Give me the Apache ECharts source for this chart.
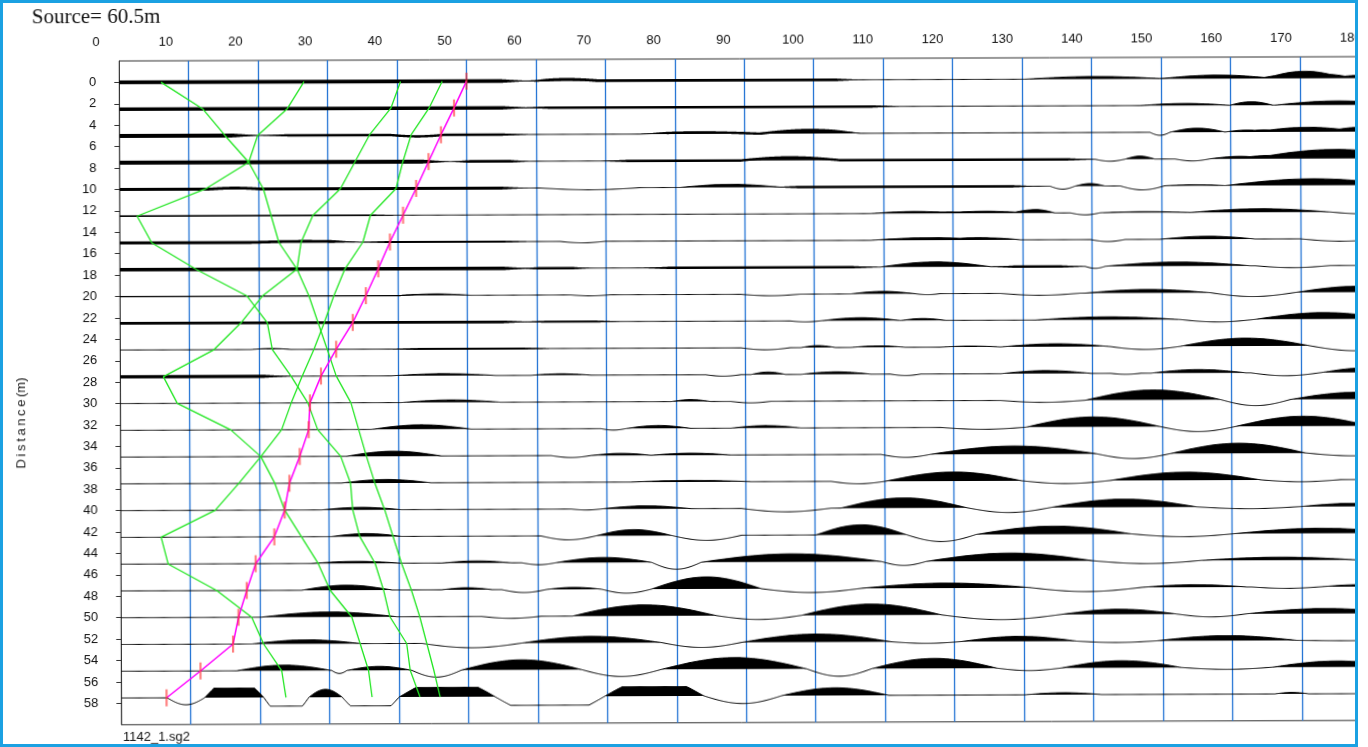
<!DOCTYPE html>
<html>
<head>
<meta charset="utf-8">
<script src="https://cdn.jsdelivr.net/npm/echarts@6/dist/echarts.min.js"></script>
<style>
  html, body { margin: 0; padding: 0; background: #fff; width: 1368px; height: 747px; overflow: hidden; }
  #clip { position: absolute; left: 0; top: 0; width: 1358px; height: 747px; overflow: hidden; }
  #chart { position: absolute; left: 0; top: 0; width: 1368px; height: 747px;
           transform: rotate(-0.2deg); transform-origin: 684px 373.5px; }
  #frame { position: absolute; left: 0; top: 0; width: 1358px; height: 747px; box-sizing: border-box;
           border: 3px solid #1ba1e2; pointer-events: none; }
</style>
</head>
<body>
<div id="clip"><div id="chart"></div></div>
<div id="frame"></div>
<script>
// Receiver offsets along the line (m), one trace each
const traceOffsets = [0, 2.5, 5, 7.5, 10, 12.5, 15, 17.5, 20, 22.5, 25, 27.5,
  30, 32.5, 35, 37.5, 40, 42.5, 45, 47.5, 50, 52.5, 55, 57.5];

// Distance tick labels on the left axis
const distanceTicks = [0, 2, 4, 6, 8, 10, 12, 14, 16, 18, 20, 22, 24, 26, 28,
  30, 32, 34, 36, 38, 40, 42, 44, 46, 48, 50, 52, 54, 56, 58];

// Time tick labels along the top
const timeTicks = [0, 10, 20, 30, 40, 50, 60, 70, 80, 90, 100, 110, 120, 130, 140, 150, 160, 170, 180];

// Wiggle content of each trace: [start time, end time, amplitude] per half-cycle
const trace00 = [[60,69,1.5],[130.4,150.5,2.5],[149.8,166.4,3.5],[164.9,176.5,7],[174.3,184.4,3]];
const trace01 = [[147,159.9,2],[159.9,166.1,3.5],[166.4,184.4,4]];
const trace02 = [[39,46.9,-1.5],[75,92.2,1.5],[92.2,106.6,3.5],[148.4,151.3,-3],[151.3,159.2,4],[159.2,165.7,2],[163.5,178.6,4.5],[175.7,184.4,5]];
const trace03 = [[89.4,103.7,3],[140.5,144.8,-2],[144.8,149.1,3],[152,157,-2],[157,165.7,2.5],[162.8,187.3,9]];
const trace04 = [[13,20.2,1],[60.5,75,-2],[80.7,95.1,3],[134,137.6,-3],[137.6,141.9,2.5],[144.1,150.5,-4],[150.5,159.2,1],[159.2,184.4,6.5]];
const trace05 = [[108.1,121,2],[118.1,131.1,2],[129,134.7,3.5],[136.9,141.2,-2],[141.2,154.2,1],[154.2,174.3,3.5],[174.3,184.4,-2]];
const trace06 = [[18.8,34.6,1],[63.4,69.9,-1.5],[108.1,125.4,2.5],[121,129.7,2],[139.8,144.8,-2],[149.8,163.5,3],[170,182,-2.5]];
const trace07 = [[109.5,125.4,5],[139,141.9,-2],[141.9,162.8,4],[163.5,174.3,-2]];
const trace08 = [[40.4,50.5,1.5],[64.9,70.6,-1],[89.4,98,-1.5],[105.2,114.5,2.5],[114.5,118.1,-1],[126.8,138.3,-2],[139,157,3.5],[157,169.3,-4],[169.3,187.3,6]];
const trace09 = [[96.5,100.9,-1],[100.9,112.4,3],[112.4,118.9,2],[131.8,152.7,3],[152.7,163.5,-2.5],[163.5,183,6.5]];
const trace10 = [[18.8,24.6,1],[89.4,96.5,-2],[98,103,2],[105.2,113.1,1.5],[118.1,126.8,1],[126.8,142.6,3],[142.6,152.7,-3],[152.7,171.4,8],[171.4,184.4,-5]];
const trace11 = [[39,54.1,2],[59.1,67.8,1.5],[84.3,89.4,-1.5],[90.8,95.8,2.5],[98,108.1,2.5],[110.9,115.3,-1.5],[126.8,139.8,3],[142.6,147,-1],[148.4,162.1,3.5],[162.8,172.9,-3],[172.9,187.3,5]];
const trace12 = [[40.4,54.8,2.5],[79.3,85,2],[87.9,93.7,-1.5],[126.8,139,-2],[139,158.5,10],[158.5,168.5,-6],[168.5,187.3,7]];
const trace13 = [[36.1,50.5,4.5],[69.2,72.8,-1.5],[72.8,82.1,3],[87.9,98,2.5],[118.1,130.4,-2],[130.4,149.8,10],[149.8,160.6,-5],[160.6,180,10]];
const trace14 = [[32.5,46.2,5],[62,67.8,-2],[67.8,76.4,2],[76.4,87.9,2],[109.5,116.7,-3],[116.7,140.5,8],[140.5,151.3,-5],[151.3,170.7,10],[170.7,184.4,-3]];
const trace15 = [[31.8,44.7,3.5],[73.5,90.8,1.5],[102.3,110.2,-2.5],[110.2,129.7,9],[129.7,142.6,-3],[142.6,164.2,8],[164.2,175.7,-2]];
const trace16 = [[28.9,40.4,2.5],[64.9,69.2,-1],[69.2,82.1,3],[89.4,102.3,-3.5],[103.7,121.8,10],[121.8,134,-5],[134,154.9,8],[154.9,170,-2],[170,184.4,3]];
const trace17 = [[30.3,40.4,3],[60.5,68.5,-4],[68.5,79.3,6],[79.3,89.4,-5],[100.1,113.1,10],[113.1,123.2,-7],[123.2,145.5,8],[145.5,160.6,-3],[160.6,184.4,5]];
const trace18 = [[27.4,40.4,2],[46.2,56.2,2],[57.7,62.7,-2],[62.7,76.4,5],[76.4,83.6,-7],[83.6,109.5,8],[109.5,116,-4],[116,140,8],[140,155.6,-3],[155.6,178,3]];
const trace19 = [[26,39,5],[46.2,53.4,2],[54.8,61.3,-3],[61.3,69.2,2],[69.2,76.4,-4],[76.4,92.2,12],[92.2,106.6,-4],[106.6,131.1,5],[131.1,147,-4],[147,162.1,2.5],[162.8,172.9,-1.5],[172.9,184.4,2]];
const trace20 = [[20.2,39.7,5],[51.9,60.5,-2],[65,85.7,11],[85.7,98,-4],[98,118.1,11],[118.1,135.4,-5],[135.4,152,5],[152,162.1,-3],[162.1,184.4,5]];
const trace21 = [[18.8,34.6,4],[43.3,57.7,-4.5],[57.7,77.8,6.5],[77.8,89.4,-5],[89.4,110.9,8],[110.9,121,-1.7],[121,137.6,5],[137.6,149.1,-1.5],[149.1,169.3,5],[169.3,184.4,-0.5]];
const trace22 = [[16.6,30.3,5.5],[30.3,32.5,-3],[32.5,41.8,4],[41.8,49,-7],[49,66.3,10],[66.3,77.8,-7],[77.8,98.7,11.5],[98.7,108.1,-7.5],[108.1,126.1,10],[126.1,135.4,-2.5],[135.4,152.7,7],[152.7,165.7,-2],[165.7,184.4,6]];
const trace23 = [[6.6,12,-7],[12,20.5,20],[20.5,27,-20],[27,31.8,8],[31.8,40,-20],[40,53.8,18],[53.8,69.6,-20],[69.6,83.9,18],[83.9,95.1,-7.7],[95.1,110.5,7.7],[130.1,141.2,2],[166.1,171,1.5]];

const traceWiggles = [trace00, trace01, trace02, trace03, trace04, trace05, trace06, trace07,
  trace08, trace09, trace10, trace11, trace12, trace13, trace14, trace15,
  trace16, trace17, trace18, trace19, trace20, trace21, trace22, trace23];

// High-frequency noise envelope on the near-surface traces: [start, end, peak-to-peak]
const traceNoise = {
  0: [[0,59.1,3.6],[57.7,107,2.8]],
  1: [[0,59.1,3.6],[57.7,112.4,2.4]],
  2: [[0,20.2,4],[20.2,59.1,2.4],[75,107,2.4]],
  3: [[0,47.6,4],[47.6,59.1,2.8],[69.2,140.5,2.4]],
  4: [[0,59.1,2.8],[93.7,132.6,2.4]],
  5: [[0,40,1.6]],
  6: [[0,34.6,2.8],[34.6,59,2]],
  7: [[0,59.1,3.6],[57.7,67.8,2.4],[75,109.5,2.4],[125.4,139,2.4]],
  8: [[0,45,1.2]],
  9: [[0,59.1,2.8],[57.7,72.1,2]],
  10: [[39,62,2]],
  11: [[0,24.6,3.2]]
};

// Recorder saturation (upper, lower) for the trace nearest the source
const traceSaturation = { 23: [9.5, 8.7] };

// First-break picks (ms) per trace
const firstBreaks = [50.0, 48.2, 46.3, 44.5, 42.7, 40.8, 38.9, 37.2, 35.4, 33.5, 31.1, 28.9,
  27.3, 27.1, 25.8, 24.3, 23.6, 22.1, 19.4, 18.1, 16.9, 16.1, 11.4, 6.5];

// Travel-time curves (ms) per trace
const curveA = [6.0, 12.0, 15.2, 18.6, 12.3, 2.5, 4.6, 11.0, 18.3, 21.2, 21.9, 24.6,
  27.0, 28.4, 31.7, 33.1, 33.4, 34.4, 36.6, 37.8, 38.7, 41.1, 41.6, 43.0];
const curveB = [26.6, 24.2, 19.9, 18.6, 20.7, 21.8, 22.9, 25.5, 27.2, 28.5, 29.8, 31.1,
  33.2, 34.3, 35.4, 36.6, 38.0, 39.2, 40.4, 41.8, 43.0, 44.0, 45.0, 45.9];
const curveC = [40.5, 39.1, 36.0, 33.9, 31.8, 27.8, 26.1, 25.5, 20.5, 17.4, 13.5, 6.2,
  8.2, 15.9, 20.2, 17.0, 13.6, 5.8, 6.8, 13.8, 18.8, 20.5, 23.1, 23.7];
const curveD = [46.5, 44.6, 42.0, 40.8, 39.8, 36.1, 35.0, 32.4, 30.8, 29.4, 27.9, 26.2,
  24.6, 23.2, 20.2, 22.2, 23.6, 26.0, 28.4, 30.1, 33.2, 34.4, 35.6, 36.1];
const travelCurves = [curveA, curveB, curveC, curveD];

// Display settings
const T_MIN = 0, T_MAX = 178.6, STEP = 0.15;
const GAIN = 1 / 10.7;   // metres of offset per amplitude unit

function amplitudeAt(i, t) {
  let a = 0;
  for (const [t0, t1, amp] of traceWiggles[i]) {
    if (t > t0 && t < t1) a += amp * Math.sin(Math.PI * (t - t0) / (t1 - t0));
  }
  const sat = traceSaturation[i];
  if (sat) a = Math.max(-sat[1], Math.min(sat[0], a));
  return a;
}

function noiseAt(band, t) {
  const [t0, t1, level] = band;
  const taper = Math.min(4, (t1 - t0) / 4);
  const lead = t0 <= 0 ? Infinity : (t - t0) / taper;
  return level * Math.max(0, Math.min(1, lead, (t1 - t) / taper));
}

function renderTrace(params, api) {
  const i = api.value(2);
  const d0 = traceOffsets[i];
  const line = [];
  const fill = [api.coord([T_MIN, d0])];
  for (let t = T_MIN; t <= T_MAX + 1e-9; t += STEP) {
    const a = amplitudeAt(i, t);
    line.push(api.coord([t, d0 - a * GAIN]));
    fill.push(api.coord([t, d0 - Math.max(a, 0) * GAIN]));
  }
  fill.push(api.coord([T_MAX, d0]));
  const children = [
    { type: 'polygon', shape: { points: fill }, style: { fill: '#000', stroke: null } }
  ];
  (traceNoise[i] || []).forEach(band => {
    const upper = [], lower = [];
    const start = Math.max(T_MIN, band[0]), end = Math.min(T_MAX, band[1]);
    for (let t = start; t <= end + 1e-9; t += STEP) {
      const a = amplitudeAt(i, t);
      const h = noiseAt(band, t) / 2;
      upper.push(api.coord([t, d0 - (a + h) * GAIN]));
      lower.push(api.coord([t, d0 - (a - h) * GAIN]));
    }
    children.push({ type: 'polygon', shape: { points: upper.concat(lower.reverse()) },
                    style: { fill: '#000', stroke: null } });
  });
  children.push({ type: 'polyline', shape: { points: line }, style: { stroke: '#000', lineWidth: 1, fill: null } });
  return { type: 'group', children: children };
}

const labelFont = 'Liberation Sans, Arial, sans-serif';

const chart = echarts.init(document.getElementById('chart'), null, { renderer: 'canvas' });

const series = [
  {
    type: 'custom',
    xAxisIndex: 0, yAxisIndex: 0,
    renderItem: renderTrace,
    data: traceOffsets.map((d, i) => [0, d, i]),
    encode: { x: 0, y: 1 },
    clip: true,
    silent: true,
    z: 3
  }
];
travelCurves.forEach(curve => {
  series.push({
    type: 'line',
    xAxisIndex: 0, yAxisIndex: 0,
    data: curve.map((t, i) => [t, traceOffsets[i]]),
    symbol: 'none',
    lineStyle: { color: '#22e622', width: 1.3 },
    silent: true,
    z: 4
  });
});
series.push({
  type: 'line',
  xAxisIndex: 0, yAxisIndex: 0,
  data: firstBreaks.map((t, i) => [t, traceOffsets[i]]),
  symbol: 'none',
  lineStyle: { color: '#ff00ff', width: 1.5 },
  silent: true,
  z: 5
});
series.push({
  type: 'scatter',
  xAxisIndex: 0, yAxisIndex: 0,
  data: firstBreaks.map((t, i) => [t, traceOffsets[i]]),
  symbol: 'rect',
  symbolSize: [2.2, 17],
  itemStyle: { color: 'rgba(255,45,45,0.75)' },
  silent: true,
  z: 6
});

chart.setOption({
  animation: false,
  backgroundColor: '#fff',
  grid: [
    { left: 120.3, top: 59, width: 1240.2, height: 663.8, show: true, borderColor: '#333', borderWidth: 1, backgroundColor: 'transparent' },
    { left: 97.2, top: 59, width: 1254.6, height: 1, show: false }
  ],
  xAxis: [
    {
      type: 'value', gridIndex: 0, min: T_MIN, max: T_MAX, interval: 10, position: 'top',
      axisLine: { show: false }, axisTick: { show: false }, axisLabel: { show: false },
      splitLine: { show: true, showMinLine: false, showMaxLine: false, lineStyle: { color: '#2474d4', width: 1.3 } }
    },
    {
      type: 'value', gridIndex: 1, min: timeTicks[0], max: timeTicks[timeTicks.length - 1], interval: 10, position: 'top',
      axisLine: { show: false }, axisTick: { show: false }, splitLine: { show: false },
      axisLabel: { show: true, margin: 12, fontSize: 13, color: '#111', fontFamily: labelFont,
                   showMinLabel: true, showMaxLabel: true }
    }
  ],
  yAxis: [
    {
      type: 'value', gridIndex: 0, inverse: true, min: -2, max: 60, interval: 2,
      axisLine: { show: true, lineStyle: { color: '#333', width: 1 } },
      axisTick: { show: true, length: 5, customValues: distanceTicks, lineStyle: { color: '#333' } },
      axisLabel: { show: true, customValues: distanceTicks, margin: 23, fontSize: 13, color: '#111', fontFamily: labelFont },
      splitLine: { show: false }
    },
    { type: 'value', gridIndex: 1, show: false, min: 0, max: 1 }
  ],
  graphic: [
    { type: 'text', x: 33, y: 15.5, silent: true,
      style: { text: 'Source= 60.5m', fontSize: 21, fontFamily: 'Liberation Serif, Times New Roman, serif',
               fill: '#111', align: 'left', verticalAlign: 'middle' } },
    { type: 'text', x: 21.8, y: 420.7, rotation: Math.PI / 2, silent: true,
      style: { text: 'D\u2009i\u2009s\u2009t\u2009a\u2009n\u2009c\u2009e\u2009(m)', fontSize: 13, fontFamily: labelFont,
               fill: '#222', align: 'center', verticalAlign: 'middle' } },
    { type: 'text', x: 121.7, y: 735, silent: true,
      style: { text: '1142_1.sg2', fontSize: 13, fontFamily: labelFont,
               fill: '#111', align: 'left', verticalAlign: 'middle' } }
  ],
  series: series
});
</script>
</body>
</html>
